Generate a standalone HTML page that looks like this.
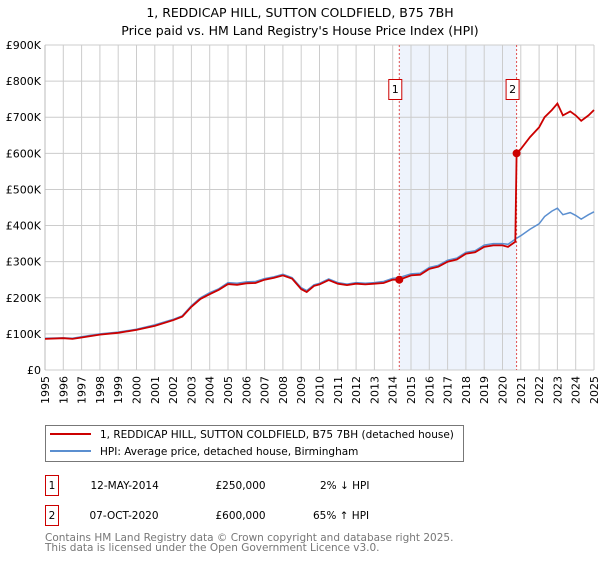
<!DOCTYPE html>
<html><head><meta charset="utf-8"><style>
body{margin:0;background:#fff;width:600px;height:560px;overflow:hidden;font-family:"Liberation Sans","DejaVu Sans",sans-serif;}
svg text{font-family:"DejaVu Sans","Liberation Sans",sans-serif;}
</style></head><body>
<svg id="chart" width="600" height="560" xmlns="http://www.w3.org/2000/svg">
<text x="300" y="17" text-anchor="middle" font-size="12.5" fill="#000">1, REDDICAP HILL, SUTTON COLDFIELD, B75 7BH</text>
<text x="300" y="35" text-anchor="middle" font-size="12.5" fill="#000">Price paid vs. HM Land Registry's House Price Index (HPI)</text>
<g id="grid"></g><g id="series"></g><g id="axes"></g>
<rect x="45.5" y="425.5" width="418" height="36" fill="#fff" stroke="#777"/>
<line x1="50" y1="434" x2="91" y2="434" stroke="#cc0000" stroke-width="2"/>
<text x="100" y="438" font-size="10.5">1, REDDICAP HILL, SUTTON COLDFIELD, B75 7BH (detached house)</text>
<line x1="50" y1="451" x2="91" y2="451" stroke="#5b8fd0" stroke-width="2"/>
<text x="100" y="455" font-size="10.5">HPI: Average price, detached house, Birmingham</text>
<g font-size="10.5">
<rect x="45.5" y="475.5" width="13" height="20" fill="#fff" stroke="#cc0000"/><text x="52" y="489" text-anchor="middle">1</text>
<text x="90.5" y="489">12-MAY-2014</text><text x="215.5" y="489">£250,000</text><text x="320" y="489">2% ↓ HPI</text></g>
<g font-size="10.5">
<rect x="45.5" y="505.5" width="13" height="20" fill="#fff" stroke="#cc0000"/><text x="52" y="519" text-anchor="middle">2</text>
<text x="89.5" y="519">07-OCT-2020</text><text x="215.5" y="519">£600,000</text><text x="313" y="519">65% ↑ HPI</text></g>
<text x="45" y="541" font-size="10.5" fill="#777">Contains HM Land Registry data © Crown copyright and database right 2025.</text>
<text x="45" y="551" font-size="10.5" fill="#777">This data is licensed under the Open Government Licence v3.0.</text>
</svg>
<script>
const years=[1995,1996,1997,1998,1999,2000,2001,2002,2003,2004,2005,2006,2007,2008,2009,2010,2011,2012,2013,2014,2015,2016,2017,2018,2019,2020,2021,2022,2023,2024,2025];
const yTicks=[0,100,200,300,400,500,600,700,800,900];
const yTickLabels=["£0","£100K","£200K","£300K","£400K","£500K","£600K","£700K","£800K","£900K"];
const hpiT=[1995,1996,1996.5,1997,1998,1999,2000,2001,2002,2002.5,2003,2003.5,2004,2004.5,2005,2005.5,2006,2006.5,2007,2007.5,2008,2008.5,2009,2009.3,2009.7,2010,2010.5,2011,2011.5,2012,2012.5,2013,2013.5,2014,2014.36,2015,2015.5,2016,2016.5,2017,2017.5,2018,2018.5,2019,2019.5,2020,2020.3,2020.77,2021,2021.5,2022,2022.3,2022.7,2023,2023.3,2023.7,2024,2024.3,2024.7,2025];
const hpiV=[88,89,88,92,100,105,113,125,140,150,178,200,214,225,242,240,244,245,253,258,265,256,228,220,236,240,252,242,238,242,240,242,245,254,256,266,268,284,290,304,310,326,330,346,350,350,348,365,372,390,405,425,440,448,430,436,428,418,430,438];
const priceT=[1995,1996,1996.5,1997,1998,1999,2000,2001,2002,2002.5,2003,2003.5,2004,2004.5,2005,2005.5,2006,2006.5,2007,2007.5,2008,2008.5,2009,2009.3,2009.7,2010,2010.5,2011,2011.5,2012,2012.5,2013,2013.5,2014,2014.36,2015,2015.5,2016,2016.5,2017,2017.5,2018,2018.5,2019,2019.5,2020,2020.3,2020.7,2020.77,2021,2021.5,2022,2022.3,2022.7,2023,2023.3,2023.7,2024,2024.3,2024.7,2025];
const priceV=[86,88,86,90,98,103,111,122,138,148,175,197,210,222,238,236,240,241,250,255,262,253,224,216,233,237,249,239,235,239,237,239,241,250,250,262,264,280,286,300,306,322,326,341,345,345,341,355,600,612,645,672,700,720,738,705,716,705,690,705,720];
const saleT=[2014.36,2020.77];
const saleV=[250,600];
const L=45,R=594,T=45,B=370;
const x=t=>L+(t-1995)/(2025-1995)*(R-L);
const y=v=>B-v/900*(B-T);
const NS="http://www.w3.org/2000/svg";
function mk(tag,attrs,parent){const e=document.createElementNS(NS,tag);for(const k in attrs)e.setAttribute(k,attrs[k]);parent.appendChild(e);return e;}
const grid=document.getElementById('grid'),ser=document.getElementById('series'),ax=document.getElementById('axes');
const sh=mk('rect',{x:x(saleT[0]),y:T,width:x(saleT[1])-x(saleT[0]),height:B-T,fill:'#eef3fc'},grid);


years.forEach(yr=>{const l=mk('line',{x1:x(yr),x2:x(yr),y1:T,y2:B,stroke:'#ccc'},grid);


const t=mk('text',{transform:`translate(${x(yr)+4},376) rotate(-90)`,'text-anchor':'end','font-size':'11'},ax);t.textContent=yr;

});
yTicks.forEach((v,i)=>{const l=mk('line',{x1:L,x2:R,y1:y(v),y2:y(v),stroke:'#ccc'},grid);


const t=mk('text',{x:41,y:y(v)+4,'text-anchor':'end','font-size':'11'},ax);t.textContent=yTickLabels[i];

});
mk('line',{x1:L,x2:L,y1:T,y2:B,stroke:'#bbb'},grid);
saleT.forEach((t,i)=>{const l=mk('line',{x1:x(t),x2:x(t),y1:T,y2:B,stroke:'#e05050','stroke-dasharray':'2,2'},grid);


const g=mk('g',{},ax);


mk('rect',{x:x(t)-10.5,y:79.5,width:13,height:20,fill:'#fff',stroke:'#cc0000'},g);
const tx=mk('text',{x:x(t)-4,y:93,'text-anchor':'middle','font-size':'11'},g);tx.textContent=i+1;});
const pts=(T_,V_)=>T_.map((t,i)=>x(t).toFixed(1)+','+y(V_[i]).toFixed(1)).join(' ');
const h=mk('polyline',{points:pts(hpiT,hpiV),fill:'none',stroke:'#5b8fd0','stroke-width':1.5},ser);


const p=mk('polyline',{points:pts(priceT,priceV),fill:'none',stroke:'#cc0000','stroke-width':1.8},ser);


saleT.forEach((t,i)=>{const c=mk('circle',{cx:x(t),cy:y(saleV[i]),r:4,fill:'#cc0000'},ser);

});
</script>
</body></html>
